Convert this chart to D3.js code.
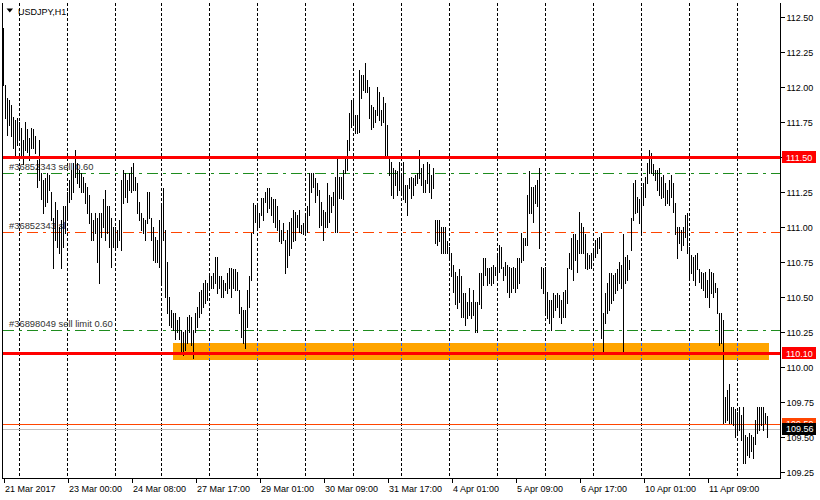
<!DOCTYPE html>
<html><head><meta charset="utf-8">
<script src="https://cdn.jsdelivr.net/npm/d3@7"></script>
<style>
body{margin:0;background:#fff}
svg{display:block}
text{font-family:"Liberation Sans",Arial,sans-serif;font-size:9px}
text.ord{font-size:9.4px}
</style>
</head><body>
<svg id="c" width="820" height="500"></svg>
<script>
const symbol = "USDJPY,H1";
const highs = [
112.42,112.02,111.92,111.91,111.87,111.79,111.77,111.78,111.75,111.71,
111.62,111.75,111.70,111.64,111.71,111.70,111.65,111.48,111.62,111.39,
111.34,111.35,111.39,111.37,111.25,111.07,111.18,111.12,111.00,111.05,
111.15,111.15,111.25,111.34,111.41,111.46,111.55,111.46,111.41,111.39,
111.36,111.32,111.29,111.23,111.10,111.05,111.10,111.07,111.10,111.10,
111.20,111.27,111.15,111.15,111.07,111.00,111.00,110.98,111.05,111.34,
111.41,111.39,111.34,111.39,111.43,111.46,111.36,111.32,111.18,111.10,
111.07,111.05,111.25,111.25,111.07,111.00,110.93,110.91,111.05,111.15,
111.28,110.98,110.75,110.50,110.41,110.39,110.39,110.34,110.36,110.27,
110.25,110.27,110.36,110.37,110.36,110.27,110.39,110.43,110.54,110.55,
110.60,110.62,110.60,110.65,110.65,110.67,110.79,110.79,110.65,110.65,
110.62,110.60,110.67,110.71,110.71,110.70,110.70,110.68,110.55,110.43,
110.41,110.41,110.55,110.65,110.96,111.17,111.16,111.15,111.10,111.21,
111.21,111.25,111.28,111.28,111.22,111.20,111.20,111.15,111.05,110.98,
111.03,110.91,110.98,111.04,111.07,111.12,111.11,111.09,111.12,111.02,
111.03,111.09,111.15,111.39,111.39,111.39,111.35,111.32,111.27,111.18,
111.12,111.11,111.32,111.23,111.22,111.25,111.36,111.50,111.36,111.36,
111.41,111.50,111.62,111.82,111.91,111.92,111.80,111.80,112.12,112.09,
112.09,112.17,112.05,112.00,111.87,111.86,111.84,112.00,111.97,111.84,
111.93,111.89,111.73,111.50,111.47,111.42,111.41,111.40,111.47,111.39,
111.47,111.30,111.30,111.35,111.36,111.35,111.37,111.39,111.55,111.42,
111.45,111.34,111.47,111.45,111.37,111.42,111.05,111.05,111.05,111.00,
111.00,111.00,110.90,110.86,110.82,110.73,110.68,110.65,110.70,110.65,
110.53,110.53,110.47,110.57,110.47,110.55,110.47,110.47,110.67,110.67,
110.78,110.78,110.71,110.71,110.72,110.73,110.72,110.82,110.87,110.86,
110.72,110.75,110.73,110.72,110.71,110.72,110.71,110.78,110.78,110.96,
110.92,110.92,111.23,111.40,111.29,111.29,111.30,111.34,111.42,110.72,
110.71,110.72,110.54,110.48,110.48,110.53,110.52,110.53,110.52,110.48,
110.54,110.55,110.71,110.82,110.92,110.95,110.95,110.91,111.11,111.03,
111.00,110.95,110.82,110.80,110.82,110.85,110.91,110.92,110.93,110.96,
110.39,110.53,110.60,110.67,110.67,110.66,110.67,110.70,110.75,110.73,
110.95,110.79,110.80,110.77,111.07,111.32,111.34,111.22,111.20,111.29,
111.32,111.36,111.46,111.55,111.53,111.45,111.41,111.41,111.42,111.36,
111.37,111.32,111.27,111.34,111.37,111.32,111.17,111.00,111.00,110.98,
111.00,111.09,111.10,110.86,110.80,110.79,110.80,110.82,110.70,110.68,
110.67,110.68,110.62,110.70,110.68,110.67,110.60,110.57,110.39,110.39,
110.34,109.79,109.84,109.88,109.72,109.72,109.70,109.68,109.72,109.66,
109.72,109.52,109.50,109.53,109.52,109.50,109.62,109.72,109.72,109.72,
109.72,109.67,109.65
];
const lows = [
112.02,111.78,111.66,111.73,111.65,111.57,111.50,111.59,111.62,111.50,
111.45,111.55,111.54,111.48,111.57,111.57,111.53,111.29,111.34,111.20,
111.10,111.15,111.18,111.27,111.05,110.71,110.91,110.86,110.82,110.71,
110.86,110.96,111.07,111.18,111.20,111.25,111.36,111.32,111.29,111.25,
111.25,111.17,111.10,111.03,110.91,110.91,110.96,110.75,110.60,110.93,
111.00,110.91,110.96,110.86,110.72,110.86,110.84,110.86,110.91,110.84,
111.17,111.22,111.18,111.27,111.25,111.27,111.27,111.10,111.05,110.98,
110.96,110.91,111.03,111.07,110.91,110.77,110.75,110.75,110.72,110.59,
110.91,110.50,110.39,110.30,110.29,110.27,110.20,110.25,110.20,110.10,
110.09,110.12,110.17,110.25,110.16,110.07,110.25,110.29,110.36,110.39,
110.43,110.46,110.48,110.55,110.57,110.57,110.60,110.53,110.57,110.50,
110.50,110.55,110.53,110.57,110.50,110.57,110.55,110.55,110.39,110.22,
110.17,110.14,110.29,110.43,110.62,110.96,111.04,111.00,111.00,111.09,
111.05,111.18,111.11,111.14,111.09,111.04,111.00,110.98,110.90,110.89,
110.91,110.67,110.72,110.80,110.85,110.90,110.91,111.00,110.97,110.96,
110.95,110.97,110.97,111.09,111.25,111.29,111.18,111.23,111.00,111.02,
110.91,111.00,111.00,111.04,111.11,111.16,110.97,110.97,111.21,111.21,
111.20,111.39,111.41,111.55,111.72,111.73,111.67,111.67,111.68,111.92,
111.98,111.97,111.97,111.78,111.70,111.72,111.75,111.80,111.77,111.73,
111.75,111.52,111.52,111.37,111.23,111.21,111.30,111.23,111.27,111.25,
111.20,111.18,111.09,111.28,111.21,111.23,111.30,111.32,111.35,111.30,
111.25,111.25,111.32,111.25,111.21,111.28,110.89,110.87,110.90,110.82,
110.82,110.82,110.82,110.78,110.65,110.54,110.45,110.42,110.47,110.36,
110.36,110.30,110.35,110.37,110.35,110.37,110.25,110.25,110.45,110.42,
110.59,110.66,110.59,110.60,110.59,110.60,110.66,110.64,110.68,110.71,
110.62,110.66,110.54,110.50,110.54,110.57,110.54,110.57,110.60,110.75,
110.77,110.87,110.87,111.10,111.10,111.04,111.17,111.15,110.85,110.57,
110.53,110.39,110.35,110.32,110.27,110.36,110.41,110.43,110.36,110.32,
110.36,110.36,110.46,110.71,110.70,110.62,110.77,110.68,110.82,110.82,
110.82,110.71,110.70,110.71,110.71,110.77,110.79,110.82,110.85,110.21,
110.11,110.32,110.39,110.41,110.46,110.48,110.53,110.55,110.60,110.57,
110.11,110.60,110.62,110.70,110.84,111.05,111.10,111.11,111.03,110.97,
111.16,111.22,111.32,111.39,111.39,111.37,111.34,111.27,111.23,111.21,
111.22,111.16,111.17,111.16,111.22,111.11,110.95,110.78,110.89,110.84,
110.87,110.93,110.82,110.62,110.67,110.62,110.59,110.70,110.61,110.57,
110.55,110.50,110.50,110.43,110.53,110.50,110.54,110.39,110.16,110.17,
109.60,109.61,109.62,109.60,109.60,109.59,109.50,109.54,109.55,109.48,
109.32,109.32,109.37,109.36,109.40,109.35,109.45,109.53,109.55,109.59,
109.55,109.60,109.50
];
const timeLabels = ["21 Mar 2017","23 Mar 00:00","24 Mar 08:00","27 Mar 17:00","29 Mar 01:00","30 Mar 09:00","31 Mar 17:00","4 Apr 01:00","5 Apr 09:00","6 Apr 17:00","10 Apr 01:00","11 Apr 09:00"];
const timeLabelBars = [0,32,64,96,128,160,192,224,256,288,320,352];
const dayGridBars = [8,32,56,79,103,127,151,175,199,223,247,271,295,319,343,367];
const priceTicks = [112.50,112.25,112.00,111.75,111.50,111.25,111.00,110.75,110.50,110.25,110.00,109.75,109.50,109.25];
const levelPrices = [111.50, 110.10];
const orderPrices = [111.39, 110.97, 110.27];
const orderLabels = ["#36852343 sell 0.60", "#36852343 sl", "#36898049 sell limit 0.60"];
const orderColors = ["#1e8c1e", "#ff4500", "#1e8c1e"];
const zonePrices = [110.17, 110.055];
const zoneBars = [85, 383];
const positionPrice = 109.595;
const bidPrice = 109.56;

const svg = d3.select("#c");
const x = d3.scaleLinear().domain([0, 388]).range([3.5, 779.5]);
const y = d3.scaleLinear().domain([109.25, 112.5]).range([472.3, 17.3]);
const L = 2.5, R = 780.5, T = 3, B = 478.5;
const ry = v => Math.round(y(v)) + 0.5;

// vertical day grid
const gridDash = "3,2";
svg.append("g").selectAll("line").data(dayGridBars).join("line")
  .attr("x1", d => x(d)).attr("x2", d => x(d))
  .attr("y1", T).attr("y2", B)
  .attr("stroke", "#000").attr("stroke-dasharray", gridDash)
  .attr("shape-rendering", "crispEdges");

// zone rectangle
const zTop = Math.round(y(zonePrices[0])), zBot = Math.round(y(zonePrices[1]));
svg.append("rect")
  .attr("x", x(zoneBars[0]) - 0.5).attr("y", zTop)
  .attr("width", x(zoneBars[1]) - x(zoneBars[0])).attr("height", zBot - zTop)
  .attr("fill", "#ffa500");
svg.append("g").selectAll("line")
  .data(dayGridBars.filter(d => d >= zoneBars[0] && d <= zoneBars[1])).join("line")
  .attr("x1", d => x(d)).attr("x2", d => x(d))
  .attr("y1", zTop).attr("y2", zBot)
  .attr("stroke", "#1f5cff").attr("stroke-dasharray", gridDash)
  .attr("stroke-dashoffset", zTop - T)
  .attr("shape-rendering", "crispEdges");

// order lines (dash-dot) and labels
svg.append("g").selectAll("line").data(orderPrices).join("line")
  .attr("x1", L).attr("x2", R)
  .attr("y1", d => ry(d)).attr("y2", d => ry(d))
  .attr("stroke", (d, i) => orderColors[i])
  .attr("stroke-dasharray", "11,5,3,5")
  .attr("shape-rendering", "crispEdges");
svg.append("g").selectAll("text").data(orderPrices).join("text")
  .attr("class", "ord")
  .attr("x", 9).attr("y", d => y(d) - 3)
  .attr("fill", "#333")
  .text((d, i) => orderLabels[i]);

// position line and bid line
svg.append("line").attr("x1", L).attr("x2", R)
  .attr("y1", ry(positionPrice)).attr("y2", ry(positionPrice))
  .attr("stroke", "#ff4500").attr("shape-rendering", "crispEdges");
svg.append("line").attr("x1", L).attr("x2", R)
  .attr("y1", ry(bidPrice)).attr("y2", ry(bidPrice))
  .attr("stroke", "#c0c0c0").attr("shape-rendering", "crispEdges");

// bars
svg.append("g").selectAll("line").data(highs).join("line")
  .attr("x1", (d, i) => x(i)).attr("x2", (d, i) => x(i))
  .attr("y1", d => Math.round(y(d)))
  .attr("y2", (d, i) => Math.round(y(lows[i])) + 1)
  .attr("stroke", "#000").attr("stroke-width", 1)
  .attr("shape-rendering", "crispEdges");

// horizontal levels (red)
svg.append("g").selectAll("line").data(levelPrices).join("line")
  .attr("x1", L).attr("x2", R)
  .attr("y1", d => Math.round(y(d))).attr("y2", d => Math.round(y(d)))
  .attr("stroke", "#ff0000").attr("stroke-width", 3)
  .attr("shape-rendering", "crispEdges");

// frame
svg.append("path")
  .attr("d", `M${L},${T}V${B}H${R}V${T}`)
  .attr("fill", "none").attr("stroke", "#000").attr("shape-rendering", "crispEdges");

// right price axis
const yAxis = d3.axisRight(y).tickValues(priceTicks).tickSize(4).tickPadding(2)
  .tickFormat(d3.format(".2f"));
const ga = svg.append("g").attr("transform", `translate(${R},0)`).call(yAxis);
ga.select(".domain").remove();
ga.selectAll(".tick line").attr("stroke", "#000").attr("shape-rendering", "crispEdges");
ga.selectAll(".tick text").attr("font-family", null).attr("font-size", null).attr("fill", "#000");

// bottom time axis
const xAxis = d3.axisBottom(x).tickValues(timeLabelBars).tickSize(4).tickPadding(3)
  .tickFormat((d, i) => timeLabels[i]);
const gx = svg.append("g").attr("transform", `translate(0,${B})`).call(xAxis);
gx.select(".domain").remove();
gx.selectAll(".tick line").attr("stroke", "#000").attr("shape-rendering", "crispEdges");
gx.selectAll(".tick text").attr("font-family", null).attr("font-size", null)
  .attr("fill", "#000").attr("text-anchor", "start").attr("x", 1);

// price boxes on axis
const bidTop = Math.round(y(bidPrice)) - 5;
svg.append("clipPath").attr("id", "abovebid")
  .append("rect").attr("x", 780).attr("y", 0).attr("width", 40).attr("height", bidTop);
function priceBox(price, fill, label, clip) {
  const cy = y(price);
  const g = svg.append("g");
  if (clip) g.attr("clip-path", "url(#abovebid)");
  g.append("rect").attr("x", 782).attr("y", Math.round(cy) - 6)
    .attr("width", 34).attr("height", 12).attr("fill", fill);
  g.append("text").attr("x", 786).attr("y", cy + 3.3)
    .attr("fill", "#fff").text(label);
}
priceBox(positionPrice, "#ff4500", d3.format(".2f")(positionPrice), true);
priceBox(bidPrice, "#000", d3.format(".2f")(bidPrice), false);
levelPrices.forEach(p => priceBox(p, "#ff0000", d3.format(".2f")(p), false));

// title
svg.append("path").attr("d", "M6.5,8.5H13L9.75,12.5Z").attr("fill", "#000");
svg.append("text").attr("x", 18).attr("y", 14.5).attr("fill", "#000").text(symbol);
</script>
</body></html>
